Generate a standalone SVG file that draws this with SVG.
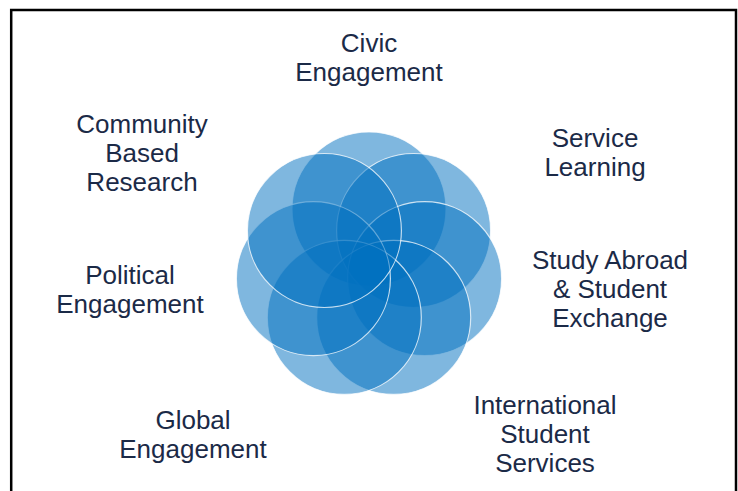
<svg xmlns="http://www.w3.org/2000/svg" width="738" height="491" viewBox="0 0 738 491">
  <style>
    .lbl { font-family: "Liberation Sans", Arial, sans-serif; font-size: 26px; fill: #1b2a47; text-anchor: middle; }
    .c { fill: #0070c0; fill-opacity: 0.5; stroke: #ffffff; stroke-width: 1.2; stroke-opacity: 0.75; }
  </style>
  <rect x="0" y="0" width="738" height="491" fill="#ffffff"/>
  <rect x="11.2" y="10" width="724.8" height="500" fill="none" stroke="#000000" stroke-width="2.5"/>
  <g id="circles">
    <circle id="c1" class="c" cx="369" cy="209" r="77"/>
    <circle id="c2" class="c" cx="413.6" cy="230.5" r="77"/>
    <circle id="c3" class="c" cx="424.6" cy="278.7" r="77"/>
    <circle id="c4" class="c" cx="393.7" cy="317.4" r="77"/>
    <circle id="c5" class="c" cx="344.3" cy="317.4" r="77"/>
    <circle id="c6" class="c" cx="313.4" cy="278.7" r="77"/>
    <circle id="c7" class="c" cx="324.4" cy="230.5" r="77"/>
  </g>
  <g id="civic"><text class="lbl" x="369" y="52">Civic</text><text class="lbl" x="369" y="81">Engagement</text></g>
  <g id="service"><text class="lbl" x="595" y="147">Service</text><text class="lbl" x="595" y="176">Learning</text></g>
  <g id="study"><text class="lbl" x="610" y="269">Study Abroad</text><text class="lbl" x="610" y="298">&amp; Student</text><text class="lbl" x="610" y="327">Exchange</text></g>
  <g id="international"><text class="lbl" x="545" y="414">International</text><text class="lbl" x="545" y="443">Student</text><text class="lbl" x="545" y="472">Services</text></g>
  <g id="global"><text class="lbl" x="193" y="429">Global</text><text class="lbl" x="193" y="458">Engagement</text></g>
  <g id="political"><text class="lbl" x="130" y="284">Political</text><text class="lbl" x="130" y="313">Engagement</text></g>
  <g id="community"><text class="lbl" x="142" y="133">Community</text><text class="lbl" x="142" y="162">Based</text><text class="lbl" x="142" y="191">Research</text></g>
  <g id="connectors"></g>
</svg>
